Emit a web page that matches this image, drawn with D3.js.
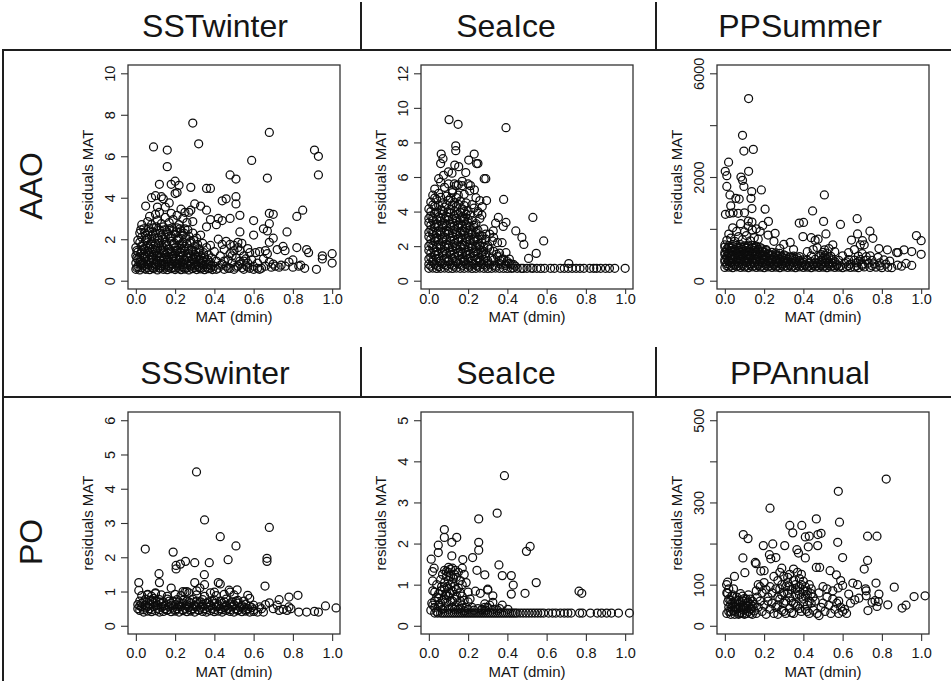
<!DOCTYPE html>
<html><head><meta charset="utf-8">
<script src="https://cdn.jsdelivr.net/npm/d3@7"></script>
<style>
body{margin:0;background:#fff}
svg{display:block}
text{font-family:"Liberation Sans",Arial,Helvetica,sans-serif;fill:#151515}
</style>
</head><body>
<svg id="chart" width="951" height="681"></svg>
<script>
// ---------------- DATA ----------------
const colTitlesTop = ["SSTwinter", "SeaIce", "PPSummer"];
const colTitlesBottom = ["SSSwinter", "SeaIce", "PPAnnual"];
const rowLabels = ["AAO", "PO"];
const xLabel = "MAT (dmin)";
const yLabel = "residuals MAT";
const xTicks = [0, 0.2, 0.4, 0.6, 0.8, 1.0];
const xTickLabels = ["0.0", "0.2", "0.4", "0.6", "0.8", "1.0"];

const yTicksSSTwinter = [0, 2, 4, 6, 8, 10];
const yTickLabelsSSTwinter = ["0", "2", "4", "6", "8", "10"];
const yTicksSeaIceAAO = [0, 2, 4, 6, 8, 10, 12];
const yTickLabelsSeaIceAAO = ["0", "2", "4", "6", "8", "10", "12"];
const yTicksPPSummer = [0, 1000, 2000, 4000, 6000];
const yTickLabelsPPSummer = ["0", "", "2000", "", "6000"];
const yTicksSSSwinter = [0, 1, 2, 3, 4, 5, 6];
const yTickLabelsSSSwinter = ["0", "1", "2", "3", "4", "5", "6"];
const yTicksSeaIcePO = [0, 1, 2, 3, 4, 5];
const yTickLabelsSeaIcePO = ["0", "1", "2", "3", "4", "5"];
const yTicksPPAnnual = [0, 100, 200, 300, 400, 500];
const yTickLabelsPPAnnual = ["0", "100", "", "300", "", "500"];

// [MAT (dmin), residuals MAT]
const aaoSSTwinter = [
[0.00,0.55],[0.01,0.68],[0.02,0.52],[0.03,0.62],[0.04,0.74],[0.05,0.55],[0.06,0.64],[0.07,0.53],[0.08,0.7],[0.09,0.58],[0.10,0.66],[0.11,0.52],[0.12,0.61],[0.13,0.72],[0.14,0.55],[0.15,0.65],[0.16,0.53],[0.17,0.7],[0.18,0.58],[0.19,0.63],[0.20,0.54],[0.21,0.71],[0.22,0.6],[0.23,0.53],[0.24,0.67],[0.25,0.56],[0.26,0.62],[0.27,0.52],[0.28,0.7],[0.29,0.58],[0.30,0.64],[0.31,0.54],[0.32,0.69],[0.33,0.57],[0.34,0.62],[0.35,0.53],[0.36,0.66],[0.37,0.58],[0.38,0.6],[0.39,0.54],
[0.00,0.85],[0.01,1.02],[0.02,0.9],[0.03,0.8],[0.04,1.08],[0.05,0.92],[0.06,0.78],[0.07,1.0],[0.08,0.86],[0.09,1.05],[0.1,0.8],[0.11,0.95],[0.12,1.1],[0.13,0.84],[0.14,0.98],[0.15,0.78],[0.16,1.04],[0.17,0.9],[0.18,0.82],[0.19,1.07],[0.2,0.94],[0.21,0.8],[0.22,1.02],[0.23,0.88],[0.24,0.78],[0.25,1.0],[0.26,0.85],[0.27,0.95],[0.28,0.8],[0.29,1.06],[0.3,0.9],[0.31,0.78],[0.32,1.0],[0.33,0.86],[0.34,0.95],[0.35,0.8],[0.36,0.9],[0.37,0.78],[0.38,0.88],
[0.0,1.2],[0.01,1.38],[0.02,1.15],[0.03,1.45],[0.04,1.28],[0.05,1.18],[0.06,1.42],[0.07,1.25],[0.08,1.12],[0.09,1.36],[0.1,1.48],[0.11,1.22],[0.12,1.3],[0.13,1.15],[0.14,1.44],[0.15,1.26],[0.16,1.35],[0.17,1.14],[0.18,1.4],[0.19,1.2],[0.2,1.3],[0.21,1.46],[0.22,1.18],[0.23,1.35],[0.24,1.22],[0.25,1.42],[0.26,1.15],[0.27,1.3],[0.28,1.2],[0.29,1.4],[0.3,1.25],[0.31,1.12],[0.32,1.35],[0.33,1.2],[0.35,1.15],[0.37,1.25],
[0.0,1.6],[0.02,1.85],[0.03,1.65],[0.04,1.55],[0.05,1.95],[0.06,1.7],[0.07,1.58],[0.08,1.88],[0.09,1.65],[0.1,1.78],[0.11,1.55],[0.12,1.96],[0.13,1.7],[0.14,1.6],[0.15,1.85],[0.16,1.68],[0.17,1.52],[0.18,1.9],[0.19,1.75],[0.2,1.6],[0.21,1.95],[0.22,1.72],[0.23,1.56],[0.24,1.85],[0.25,1.65],[0.26,1.78],[0.27,1.55],[0.28,1.9],[0.3,1.65],[0.32,1.55],[0.34,1.8],[0.36,1.6],[0.38,1.7],
[0.02,2.3],[0.03,2.1],[0.04,2.5],[0.05,2.2],[0.06,2.05],[0.07,2.4],[0.08,2.15],[0.09,2.55],[0.1,2.3],[0.11,2.05],[0.12,2.45],[0.13,2.2],[0.14,2.6],[0.15,2.1],[0.16,2.35],[0.17,2.5],[0.18,2.15],[0.19,2.4],[0.2,2.25],[0.21,2.55],[0.22,2.05],[0.23,2.4],[0.24,2.2],[0.25,2.5],[0.27,2.15],[0.29,2.3],[0.31,2.05],[0.33,2.2],
[0.03,2.7],[0.06,2.85],[0.07,3.1],[0.08,2.7],[0.1,3.2],[0.11,2.9],[0.12,3.3],[0.13,2.75],[0.15,3.05],[0.17,2.8],[0.18,3.25],[0.19,2.95],[0.21,3.15],[0.22,2.7],[0.24,3.0],[0.25,3.3],[0.26,2.8],[0.23,3.45],[0.27,3.3],[0.28,3.4],[0.29,2.85],
[0.005,0.62],[0.025,0.78],[0.045,0.6],[0.065,0.75],[0.085,0.63],[0.105,0.77],[0.125,0.6],[0.145,0.74],[0.165,0.64],[0.185,0.78],[0.205,0.61],[0.225,0.75],[0.245,0.62],[0.265,0.77],[0.285,0.6],[0.305,0.74],[0.325,0.63],[0.345,0.76],[0.365,0.6],[0.385,0.72],
[0.005,1.1],[0.025,0.98],[0.045,1.15],[0.065,1.0],[0.085,1.18],[0.105,1.02],[0.125,0.98],[0.145,1.12],[0.165,1.0],[0.185,1.16],[0.205,1.05],[0.225,1.12],[0.245,0.98],[0.265,1.1],[0.285,1.02],[0.305,1.15],[0.325,0.98],[0.345,1.08],[0.365,1.02],[0.385,1.1],
[0.005,1.45],[0.025,1.32],[0.045,1.5],[0.065,1.35],[0.085,1.55],[0.105,1.3],[0.125,1.48],[0.145,1.35],[0.165,1.52],[0.185,1.3],[0.205,1.45],[0.225,1.38],[0.245,1.55],[0.265,1.32],[0.285,1.48],[0.305,1.4],[0.325,1.5],[0.345,1.35],
[0.01,1.95],[0.035,1.75],[0.055,2.0],[0.075,1.78],[0.095,2.05],[0.115,1.8],[0.135,2.0],[0.155,1.76],[0.175,2.05],[0.195,1.82],[0.215,2.0],[0.235,1.78],[0.255,2.02],[0.275,1.82],[0.295,1.95],[0.315,1.75],
[0.025,2.45],[0.045,2.3],[0.065,2.55],[0.085,2.35],[0.105,2.6],[0.125,2.3],[0.145,2.45],[0.165,2.25],[0.185,2.55],[0.205,2.35],[0.225,2.5],[0.245,2.3],[0.265,2.45],
[0.05,3.6],[0.08,4.0],[0.1,4.1],[0.11,3.55],[0.13,4.05],[0.15,3.55],[0.12,4.65],[0.18,4.65],[0.2,4.8],[0.22,4.6],[0.2,4.2],[0.21,4.25],[0.28,4.5],[0.36,4.45],[0.38,4.45],[0.3,3.7],[0.33,3.6],[0.36,3.4],[0.16,5.5],[0.09,6.45],[0.16,6.3],[0.29,7.6],[0.32,6.6],[0.17,3.75],[0.14,3.95],
[0.4,0.7],[0.41,0.95],[0.42,0.6],[0.43,1.2],[0.44,0.8],[0.45,0.55],[0.45,1.5],[0.46,0.7],[0.47,1.0],[0.48,0.6],[0.48,1.3],[0.49,0.85],[0.5,1.7],[0.5,0.55],[0.51,1.1],[0.52,0.7],[0.52,1.85],[0.53,0.95],[0.53,1.45],[0.54,0.62],[0.54,1.8],[0.55,1.2],[0.56,0.75],[0.57,1.55],[0.58,0.6],[0.59,1.0],[0.6,0.7],[0.61,1.35],[0.62,0.85],[0.63,1.4],[0.64,0.6],[0.65,1.05],[0.66,0.7],[0.67,1.3],[0.68,0.9],[0.69,0.65],[0.7,0.8],[0.71,0.7],[0.72,1.5],[0.73,0.65],[0.74,0.75],[0.75,1.65],[0.76,1.45],[0.76,0.7],[0.78,0.9],[0.8,0.65],[0.8,1.0],[0.82,1.6],[0.83,0.7],[0.84,0.75],[0.86,0.6],[0.87,1.5],[0.88,1.35],[0.92,0.55],[0.95,1.2],[0.95,1.05],[1.0,1.3],[1.0,0.85],[0.42,2.0],[0.44,1.75],[0.4,1.4],[0.46,1.9],[0.55,0.55],[0.57,0.85],[0.63,0.55],[0.66,1.45],
[0.41,0.55],[0.43,0.75],[0.45,0.95],[0.47,0.6],[0.49,1.2],[0.51,0.65],[0.53,0.8],[0.55,0.95],[0.57,0.65],[0.6,0.55],[0.62,0.6],[0.5,1.45],[0.52,1.6],[0.48,1.75],[0.56,1.05],[0.58,1.35],
[0.44,3.85],[0.46,3.95],[0.51,4.05],[0.51,3.7],[0.53,3.15],[0.48,3.0],[0.42,3.0],[0.44,2.9],[0.41,2.7],[0.38,2.95],[0.36,2.6],[0.6,2.9],[0.68,3.25],[0.7,3.2],[0.68,2.75],[0.65,2.5],[0.67,2.4],[0.6,2.2],[0.68,1.85],[0.7,2.05],[0.77,2.35],[0.82,3.1],[0.85,3.4],[0.53,2.35],[0.48,5.1],[0.51,4.9],[0.59,5.8],[0.67,4.95],[0.68,7.15],[0.91,6.3],[0.93,6.0],[0.93,5.1]
];

const aaoSeaIce = [
[0.00,0.72],[0.02,0.73],[0.04,0.71],[0.06,0.72],[0.08,0.73],[0.10,0.72],[0.12,0.71],[0.14,0.73],[0.16,0.72],[0.18,0.72],[0.20,0.73],[0.22,0.71],[0.24,0.72],[0.26,0.73],[0.28,0.72],[0.30,0.71],[0.32,0.72],[0.34,0.73],[0.36,0.72],[0.38,0.72],[0.40,0.71],[0.42,0.72],[0.43,0.73],[0.45,0.72],[0.47,0.72],[0.48,0.71],[0.50,0.72],[0.52,0.73],[0.53,0.72],[0.55,0.72],[0.57,0.71],[0.59,0.72],[0.62,0.72],[0.64,0.72],[0.67,0.72],[0.69,0.72],[0.71,0.72],[0.73,0.72],[0.75,0.72],[0.77,0.72],[0.79,0.72],[0.82,0.72],[0.84,0.72],[0.855,0.72],[0.875,0.72],[0.90,0.72],[0.92,0.72],[0.947,0.72],[1.0,0.72],
[0.00,0.95],[0.02,1.08],[0.04,0.88],[0.06,1.02],[0.08,0.92],[0.10,1.1],[0.12,0.9],[0.14,1.05],[0.16,0.94],[0.18,1.08],[0.20,0.9],[0.22,1.0],[0.24,0.88],[0.26,1.06],[0.28,0.92],[0.30,1.02],[0.33,0.9],[0.36,1.0],[0.39,0.88],[0.42,0.95],[0.44,0.85],
[0.01,1.35],[0.03,1.48],[0.05,1.3],[0.07,1.45],[0.09,1.32],[0.11,1.5],[0.13,1.36],[0.15,1.44],[0.17,1.3],[0.19,1.48],[0.21,1.34],[0.23,1.42],[0.25,1.3],[0.27,1.46],[0.29,1.36],[0.32,1.3],[0.35,1.4],[0.38,1.25],
[0.00,1.75],[0.02,1.88],[0.04,1.7],[0.06,1.85],[0.08,1.72],[0.10,1.9],[0.12,1.76],[0.14,1.86],[0.16,1.7],[0.18,1.84],[0.20,1.74],[0.22,1.88],[0.24,1.72],[0.26,1.8],[0.28,1.7],[0.31,1.82],
[0.01,2.15],[0.03,2.28],[0.05,2.1],[0.07,2.25],[0.09,2.12],[0.11,2.3],[0.13,2.16],[0.15,2.26],[0.17,2.1],[0.19,2.24],[0.21,2.14],[0.23,2.28],[0.25,2.1],[0.27,2.2],[0.30,2.05],
[0.00,2.55],[0.02,2.68],[0.04,2.5],[0.06,2.65],[0.08,2.52],[0.10,2.7],[0.12,2.56],[0.14,2.66],[0.16,2.5],[0.18,2.64],[0.20,2.54],[0.22,2.68],[0.24,2.52],[0.26,2.6],
[0.01,2.95],[0.03,3.08],[0.05,2.9],[0.07,3.05],[0.09,2.92],[0.11,3.1],[0.13,2.96],[0.15,3.06],[0.17,2.9],[0.19,3.04],[0.21,2.94],[0.23,3.08],[0.25,2.92],
[0.00,3.35],[0.02,3.48],[0.04,3.3],[0.06,3.45],[0.08,3.32],[0.10,3.5],[0.12,3.36],[0.14,3.46],[0.16,3.3],[0.18,3.44],[0.20,3.34],[0.22,3.48],
[0.01,3.75],[0.03,3.9],[0.05,3.7],[0.07,3.85],[0.09,3.72],[0.11,3.9],[0.13,3.76],[0.15,3.86],[0.17,3.7],[0.19,3.84],
[0.00,4.15],[0.03,4.3],[0.06,4.1],[0.08,4.25],[0.11,4.12],[0.14,4.3],[0.17,4.16],[0.20,4.05],
[0.01,4.55],[0.04,4.7],[0.07,4.5],[0.10,4.65],[0.13,4.52],[0.16,4.6],[0.19,4.5],
[0.02,4.95],[0.05,5.05],[0.09,4.9],[0.12,5.1],[0.15,4.95],[0.18,5.0],
[0.01,0.85],[0.03,0.95],[0.05,0.82],[0.07,1.0],[0.09,0.86],[0.11,0.96],[0.13,0.84],[0.15,1.0],[0.17,0.86],[0.19,0.95],[0.21,0.85],[0.23,0.96],[0.25,0.84],[0.27,0.95],[0.29,0.85],[0.31,0.92],[0.34,0.84],[0.37,0.92],
[0.00,1.25],[0.02,1.18],[0.04,1.28],[0.06,1.15],[0.08,1.26],[0.10,1.2],[0.12,1.28],[0.14,1.16],[0.16,1.24],[0.18,1.18],[0.20,1.26],[0.22,1.16],[0.24,1.22],[0.26,1.18],[0.28,1.24],[0.30,1.16],[0.33,1.2],
[0.01,1.6],[0.03,1.65],[0.05,1.56],[0.07,1.62],[0.09,1.58],[0.11,1.66],[0.13,1.56],[0.15,1.62],[0.17,1.58],[0.19,1.64],[0.21,1.56],[0.23,1.62],[0.25,1.58],[0.27,1.62],[0.29,1.55],
[0.00,2.0],[0.02,2.05],[0.04,1.96],[0.06,2.02],[0.08,1.98],[0.10,2.06],[0.12,1.96],[0.14,2.02],[0.16,1.98],[0.18,2.04],[0.20,1.96],[0.22,2.02],[0.24,1.98],[0.26,2.02],[0.28,1.95],
[0.01,2.4],[0.03,2.44],[0.05,2.36],[0.07,2.42],[0.09,2.38],[0.11,2.46],[0.13,2.36],[0.15,2.42],[0.17,2.38],[0.19,2.44],[0.21,2.36],[0.23,2.42],[0.25,2.38],[0.27,2.4],
[0.00,2.8],[0.02,2.84],[0.04,2.76],[0.06,2.82],[0.08,2.78],[0.10,2.86],[0.12,2.76],[0.14,2.82],[0.16,2.78],[0.18,2.84],[0.20,2.76],[0.22,2.82],[0.24,2.78],
[0.01,3.2],[0.03,3.24],[0.05,3.16],[0.07,3.22],[0.09,3.18],[0.11,3.26],[0.13,3.16],[0.15,3.22],[0.17,3.18],[0.19,3.24],[0.21,3.16],[0.23,3.2],
[0.00,3.6],[0.02,3.64],[0.04,3.56],[0.06,3.62],[0.08,3.58],[0.10,3.66],[0.12,3.56],[0.14,3.62],[0.16,3.58],[0.18,3.6],[0.20,3.56],
[0.01,4.0],[0.04,3.96],[0.07,4.04],[0.10,3.98],[0.13,4.02],[0.16,3.96],[0.18,4.0],
[0.02,4.38],[0.05,4.34],[0.09,4.4],[0.12,4.36],[0.15,4.42],[0.18,4.35],
[0.03,4.78],[0.06,4.82],[0.11,4.76],[0.14,4.8],
[0.27,2.6],[0.29,2.4],[0.31,2.7],[0.33,2.5],[0.35,2.2],[0.28,3.0],[0.3,1.9],[0.33,1.7],[0.36,1.6],[0.37,1.2],[0.4,1.1],[0.41,1.25],[0.26,3.6],[0.27,3.8],[0.24,3.3],[0.25,3.9],
[0.103,9.32],[0.149,9.05],[0.393,8.85],[0.137,7.8],[0.137,7.52],[0.063,7.33],[0.072,7.06],[0.231,7.33],[0.203,6.98],[0.243,6.78],[0.25,6.78],[0.06,6.78],[0.132,6.69],[0.152,6.6],[0.1,6.3],[0.118,6.22],[0.188,6.26],[0.075,6.1],[0.05,5.9],[0.13,5.6],[0.14,5.5],[0.15,5.55],[0.169,5.5],[0.212,5.5],[0.208,5.2],[0.232,5.26],[0.282,5.9],[0.29,5.9],[0.26,4.64],[0.294,4.64],[0.381,4.7],[0.272,4.29],[0.25,4.0],[0.354,3.66],[0.34,3.33],[0.393,3.37],[0.53,3.66],[0.379,3.14],[0.328,2.88],[0.323,2.3],[0.443,2.88],[0.474,2.5],[0.484,2.1],[0.585,2.3],[0.29,2.7],[0.373,2.2],[0.393,1.62],[0.547,1.58],[0.508,1.29],[0.345,1.52],[0.362,1.17],[0.713,0.99],[0.39,0.97],[0.41,1.0],[0.43,0.95],[0.08,5.4],[0.1,5.6],[0.03,5.3],[0.06,5.7],[0.12,5.25],[0.17,5.75],[0.2,5.6],[0.22,4.4],[0.24,4.8],[0.21,3.8],[0.23,4.2]
];

const aaoPPSummer = [
[0.00,255],[0.02,262],[0.04,250],[0.06,268],[0.08,256],[0.10,262],[0.12,250],[0.14,265],[0.16,256],[0.18,262],[0.20,250],[0.22,266],[0.24,255],[0.26,262],[0.28,250],[0.30,265],[0.32,256],[0.34,262],[0.36,250],[0.38,266],[0.40,255],[0.42,262],[0.44,250],[0.46,265],[0.48,256],[0.50,262],[0.52,250],[0.54,266],[0.56,255],[0.58,262],[0.60,250],[0.62,265],[0.64,256],[0.66,262],[0.68,250],[0.71,266],[0.74,255],[0.77,262],[0.80,250],[0.83,258],[0.85,252],
[0.01,330],[0.03,345],[0.05,320],[0.07,338],[0.09,325],[0.11,350],[0.13,328],[0.15,342],[0.17,322],[0.19,346],[0.21,330],[0.23,340],[0.25,320],[0.27,348],[0.29,326],[0.31,340],[0.33,322],[0.35,345],[0.37,330],[0.39,338],[0.41,320],[0.43,346],[0.45,328],[0.47,335],[0.49,322],[0.51,345],[0.53,330],[0.55,340],[0.57,318],[0.61,335],[0.64,322],[0.67,345],[0.70,320],[0.73,338],[0.76,325],[0.79,342],[0.82,320],
[0.00,405],[0.02,392],[0.04,415],[0.06,398],[0.08,410],[0.10,390],[0.12,418],[0.14,400],[0.16,412],[0.18,395],[0.20,408],[0.22,390],[0.24,415],[0.26,398],[0.28,410],[0.30,392],[0.32,405],[0.34,395],[0.36,412],[0.38,390],[0.40,402],[0.42,395],[0.46,410],[0.49,390],[0.52,415],[0.55,400],[0.58,392],[0.63,405],[0.66,395],[0.69,410],[0.72,398],[0.75,390],
[0.01,470],[0.03,482],[0.05,462],[0.07,478],[0.09,466],[0.11,485],[0.13,470],[0.15,480],[0.17,462],[0.19,476],[0.21,468],[0.23,484],[0.25,462],[0.27,475],[0.29,466],[0.31,480],[0.33,460],[0.35,472],[0.38,465],[0.44,478],[0.48,465],[0.51,482],[0.54,470],[0.68,475],[0.72,462],
[0.00,545],[0.02,532],[0.04,555],[0.06,538],[0.08,550],[0.10,530],[0.12,558],[0.14,540],[0.16,552],[0.18,535],[0.20,548],[0.22,530],[0.24,545],[0.26,535],[0.28,528],[0.50,545],[0.52,530],
[0.01,610],[0.03,622],[0.05,600],[0.07,618],[0.09,605],[0.11,625],[0.13,608],[0.15,620],[0.17,602],[0.19,615],[0.21,600],
[0.00,690],[0.02,675],[0.04,700],[0.06,680],[0.08,695],[0.10,672],[0.12,688],[0.14,678],[0.16,665],
[0.01,290],[0.03,285],[0.05,295],[0.07,288],[0.09,292],[0.11,285],[0.13,296],[0.15,288],[0.17,292],[0.19,285],[0.21,295],[0.23,288],[0.25,292],[0.27,285],[0.29,296],[0.31,288],[0.33,292],[0.35,285],[0.37,295],[0.39,288],[0.41,292],[0.43,285],[0.45,296],[0.47,288],[0.49,292],[0.51,285],[0.53,295],[0.55,288],[0.57,292],[0.59,285],[0.63,290],[0.67,285],[0.70,292],[0.75,288],[0.79,285],
[0.00,365],[0.02,372],[0.04,360],[0.06,368],[0.08,375],[0.10,362],[0.12,370],[0.14,358],[0.16,372],[0.18,365],[0.20,360],[0.22,372],[0.24,365],[0.26,358],[0.28,370],[0.30,362],[0.32,368],[0.34,360],[0.36,372],[0.38,365],[0.40,360],[0.44,368],[0.48,362],[0.50,372],[0.53,360],[0.56,368],[0.62,362],[0.68,370],
[0.01,435],[0.03,440],[0.05,430],[0.07,445],[0.09,432],[0.11,442],[0.13,436],[0.15,428],[0.17,444],[0.19,434],[0.21,440],[0.23,430],[0.25,445],[0.27,435],[0.29,440],[0.31,430],[0.33,438],[0.35,432],[0.37,440],[0.50,435],[0.53,440],
[0.00,505],[0.02,512],[0.04,500],[0.06,515],[0.08,505],[0.10,510],[0.12,498],[0.14,512],[0.16,502],[0.18,510],[0.20,498],[0.22,508],[0.24,500],[0.26,505],[0.30,500],[0.49,505],
[0.01,575],[0.03,580],[0.05,570],[0.07,585],[0.09,572],[0.11,580],[0.13,568],[0.15,582],[0.17,575],[0.19,570],[0.21,580],
[0.00,650],[0.02,645],[0.04,655],[0.06,640],[0.08,650],[0.10,645],[0.12,655],[0.14,640],[0.16,650],[0.18,640],
[0.01,780],[0.03,820],[0.05,760],[0.07,850],[0.09,790],[0.11,870],[0.13,770],[0.15,830],[0.17,800],[0.02,900],[0.06,950],[0.10,940],[0.14,980],[0.04,1020],[0.08,1100],[0.12,1050],
[0.121,5025],[0.09,3610],[0.097,3000],[0.145,3065],[0.019,2571],[0.121,2220],[0.002,2220],[0.01,2052],[0.082,2000],[0.09,1935],[0.097,1817],[0.01,1817],[0.026,1654],[0.137,1719],[0.186,1750],[0.056,1588],[0.073,1575],[0.133,1588],[0.03,1444],[0.138,1392],[0.205,1379],[0.003,1280],[0.025,1300],[0.042,1310],[0.068,1300],[0.1,1310],[0.12,1150],[0.138,1130],[0.222,1144],[0.256,915],[0.193,1065],[0.16,1000],[0.379,1111],[0.401,1124],[0.447,1346],[0.507,1654],[0.503,1144],[0.515,902],[0.398,850],[0.44,830],[0.46,780],[0.475,800],[0.589,1085],[0.674,1196],[0.676,902],[0.739,954],[0.754,817],[0.701,771],[0.69,693],[0.71,693],[0.645,784],[0.785,620],[0.828,595],[0.875,542],[0.882,542],[0.913,595],[0.976,869],[1.0,771],[0.952,562],[1.0,510],[0.923,333],[0.952,294],[0.55,693],[0.508,595],[0.333,738],[0.3,700],[0.28,620],[0.25,760],[0.22,880],[0.18,950],[0.35,600],[0.42,560],[0.45,600],[0.47,640],[0.53,620],[0.56,560],[0.6,480],[0.63,540],[0.66,600],[0.7,520],[0.74,480],[0.78,450],[0.81,400],[0.84,380],[0.88,300],[0.9,280]
];

const poSSSwinter = [
[0.02,0.45],[0.04,0.4],[0.06,0.43],[0.08,0.41],[0.10,0.44],[0.12,0.4],[0.14,0.42],[0.16,0.45],[0.18,0.41],[0.20,0.43],[0.22,0.4],[0.24,0.44],[0.26,0.41],[0.28,0.43],[0.30,0.4],[0.32,0.45],[0.34,0.42],[0.36,0.4],[0.38,0.44],[0.40,0.41],[0.42,0.43],[0.44,0.4],[0.46,0.45],[0.48,0.42],[0.50,0.4],[0.52,0.44],[0.54,0.41],[0.56,0.43],[0.58,0.4],[0.60,0.42],[0.62,0.4],
[0.01,0.5],[0.03,0.55],[0.05,0.52],[0.07,0.5],[0.09,0.56],[0.11,0.51],[0.13,0.54],[0.15,0.5],[0.17,0.55],[0.19,0.52],[0.21,0.5],[0.23,0.56],[0.25,0.51],[0.27,0.53],[0.29,0.5],[0.31,0.55],[0.33,0.52],[0.35,0.5],[0.37,0.54],[0.39,0.51],[0.41,0.55],[0.43,0.5],[0.45,0.53],[0.47,0.51],[0.49,0.55],[0.51,0.5],[0.53,0.54],[0.55,0.52],[0.57,0.5],[0.59,0.53],
[0.01,0.62],[0.03,0.66],[0.05,0.6],[0.07,0.64],[0.09,0.68],[0.11,0.61],[0.13,0.65],[0.15,0.6],[0.18,0.66],[0.20,0.62],[0.22,0.6],[0.24,0.65],[0.26,0.61],[0.28,0.67],[0.30,0.6],[0.32,0.64],[0.34,0.62],[0.36,0.66],[0.38,0.6],[0.40,0.65],[0.42,0.61],[0.44,0.66],[0.46,0.6],[0.48,0.64],[0.50,0.62],[0.52,0.66],[0.54,0.6],[0.56,0.63],
[0.02,0.72],[0.05,0.78],[0.07,0.74],[0.09,0.8],[0.1,0.72],[0.12,0.76],[0.14,0.7],[0.16,0.78],[0.19,0.72],[0.21,0.76],[0.24,0.74],[0.27,0.7],[0.29,0.78],[0.31,0.72],[0.34,0.76],[0.37,0.7],[0.40,0.75],[0.43,0.72],[0.46,0.78],[0.49,0.7],[0.52,0.74],[0.55,0.72],
[0.03,0.88],[0.06,0.92],[0.08,0.86],[0.1,0.94],[0.13,0.9],[0.16,0.86],[0.2,0.92],[0.23,0.88],[0.25,0.98],[0.27,0.96],[0.31,0.9],[0.35,0.86],[0.38,0.96],[0.41,0.88],[0.45,0.92],[0.48,0.98],[0.5,0.9],
[0.02,0.58],[0.04,0.47],[0.06,0.56],[0.08,0.47],[0.10,0.58],[0.12,0.47],[0.14,0.57],[0.16,0.47],[0.18,0.58],[0.20,0.47],[0.22,0.56],[0.24,0.47],[0.26,0.57],[0.28,0.47],[0.30,0.56],[0.32,0.47],[0.34,0.57],[0.36,0.47],[0.38,0.58],[0.40,0.47],[0.42,0.56],[0.44,0.47],[0.46,0.57],[0.48,0.47],[0.50,0.58],[0.52,0.47],[0.54,0.56],[0.56,0.47],[0.58,0.57],[0.60,0.47],
[0.04,0.7],[0.08,0.72],[0.12,0.7],[0.17,0.72],[0.22,0.7],[0.26,0.72],[0.33,0.7],[0.39,0.72],[0.45,0.7],[0.51,0.72],
[0.63,0.55],[0.65,0.4],[0.68,0.67],[0.72,0.6],[0.73,0.45],[0.77,0.45],[0.78,0.55],[0.79,0.5],[0.83,0.4],[0.87,0.4],[0.91,0.42],[0.93,0.4],[0.966,0.58],[1.02,0.52],[0.73,0.76],[0.78,0.84],[0.826,0.89],[0.57,0.89],[0.58,0.8],[0.6,0.6],[0.64,0.5],[0.7,0.5],[0.75,0.48],[0.66,0.62],
[0.309,4.49],[0.35,3.09],[0.68,2.87],[0.43,2.6],[0.51,2.33],[0.048,2.24],[0.19,2.15],[0.47,1.93],[0.668,1.97],[0.668,1.88],[0.30,1.84],[0.374,1.84],[0.253,1.88],[0.227,1.8],[0.205,1.76],[0.205,1.66],[0.118,1.52],[0.349,1.49],[0.015,1.26],[0.015,1.03],[0.12,1.26],[0.30,1.26],[0.35,1.2],[0.42,1.26],[0.43,1.22],[0.658,1.16],[0.18,1.1],[0.326,1.1],[0.475,1.04],[0.516,1.05],[0.31,1.02],[0.24,1.0],[0.26,1.0],[0.4,0.98],[0.1,0.96],[0.06,0.9]
];

const poSeaIce = [
[0.03,0.31],[0.045,0.31],[0.06,0.31],[0.07,0.31],[0.08,0.31],[0.09,0.31],[0.10,0.31],[0.11,0.31],[0.12,0.31],[0.13,0.31],[0.14,0.31],[0.15,0.31],[0.16,0.31],[0.17,0.31],[0.18,0.31],[0.19,0.31],[0.20,0.31],[0.21,0.31],[0.22,0.31],[0.23,0.31],[0.24,0.31],[0.25,0.31],[0.26,0.31],[0.27,0.31],[0.28,0.31],[0.29,0.31],[0.30,0.31],[0.31,0.31],[0.32,0.31],[0.33,0.31],[0.34,0.31],[0.35,0.31],[0.36,0.31],[0.37,0.31],[0.38,0.31],[0.39,0.31],[0.40,0.31],[0.41,0.31],[0.42,0.31],[0.43,0.31],[0.44,0.31],[0.45,0.31],[0.465,0.31],[0.48,0.31],[0.495,0.31],[0.51,0.31],[0.525,0.31],[0.54,0.31],[0.555,0.31],[0.57,0.31],[0.585,0.31],[0.61,0.31],[0.63,0.31],[0.647,0.31],[0.67,0.31],[0.69,0.31],[0.708,0.31],[0.725,0.31],[0.768,0.31],[0.782,0.31],[0.823,0.31],[0.858,0.31],[0.88,0.31],[0.906,0.31],[0.93,0.31],[0.966,0.31],[1.022,0.31],
[0.01,0.38],[0.02,0.5],[0.015,0.55],[0.03,0.45],[0.04,0.35],[0.02,0.85],[0.03,0.82],[0.05,0.78],[0.06,0.85],[0.05,0.68],[0.07,0.62],[0.08,0.9],[0.09,0.55],[0.1,0.72],[0.08,1.05],[0.09,1.2],[0.1,1.3],[0.11,1.38],[0.1,1.42],[0.12,1.4],[0.09,1.32],[0.07,1.25],[0.06,1.12],[0.04,1.0],[0.11,1.0],[0.12,0.85],[0.13,0.65],[0.14,0.5],[0.12,0.45],[0.14,1.18],[0.15,1.3],[0.16,1.1],[0.15,0.92],[0.16,0.8],[0.17,1.4],[0.18,1.25],[0.19,1.05],[0.18,0.62],[0.2,0.58],[0.21,0.65],[0.19,0.45],[0.13,0.95],[0.11,0.6],[0.07,0.4],[0.05,0.5],[0.1,0.4],[0.15,0.4],[0.17,0.5],[0.22,0.45],[0.25,0.42],[0.27,0.4],[0.29,0.38],[0.3,0.45],[0.31,0.5],[0.33,0.4],[0.35,0.38],[0.36,0.42],[0.065,0.95],[0.085,0.75],[0.095,0.95],[0.125,1.15],[0.105,0.8],[0.135,1.35],
[0.03,0.6],[0.04,0.7],[0.06,0.55],[0.08,0.65],[0.09,0.8],[0.11,0.78],[0.12,0.6],[0.14,0.72],[0.16,0.6],[0.17,0.72],[0.13,1.25],[0.11,1.2],[0.1,1.1],[0.08,1.35],[0.12,1.05],[0.14,0.88],[0.06,0.45],[0.08,0.42],[0.13,0.4],[0.16,0.42],[0.2,0.4],[0.23,0.38],[0.18,0.36],
[0.385,3.65],[0.348,2.74],[0.254,2.6],[0.079,2.34],[0.079,2.15],[0.142,2.15],[0.117,2.03],[0.048,1.96],[0.254,2.03],[0.254,1.84],[0.516,1.93],[0.497,1.81],[0.223,1.66],[0.173,1.61],[0.117,1.7],[0.048,1.78],[0.012,1.62],[0.357,1.48],[0.027,1.4],[0.019,1.32],[0.245,1.35],[0.285,1.24],[0.374,1.22],[0.42,1.22],[0.43,0.99],[0.547,1.05],[0.019,1.09],[0.765,0.84],[0.779,0.79],[0.49,0.79],[0.42,0.77],[0.237,0.84],[0.262,0.79],[0.3,0.89],[0.3,0.87],[0.326,0.73],[0.326,0.57],[0.374,0.5],[0.285,0.53],[0.285,0.45],[0.27,0.38],[0.403,0.4],[0.2,0.82],[0.17,1.0]
];

const poPPAnnual = [
[0.01,30],[0.02,45],[0.03,35],[0.04,55],[0.05,28],[0.06,40],[0.07,62],[0.08,32],[0.09,50],[0.1,28],[0.11,42],[0.12,58],[0.13,30],[0.14,48],[0.15,36],[0.02,65],[0.04,38],[0.06,70],[0.08,45],[0.1,66],[0.12,35],[0.14,28],[0.03,52],[0.05,60],[0.07,42],[0.09,72],[0.11,30],[0.13,65],[0.015,58],[0.035,72],[0.055,46],[0.075,30],[0.095,38],[0.115,55],[0.135,42],[0.01,80],[0.02,90],[0.04,75],[0.08,78],[0.12,75],
[0.02,35],[0.03,28],[0.04,48],[0.05,35],[0.06,55],[0.07,28],[0.08,58],[0.09,30],[0.1,45],[0.11,65],[0.12,48],[0.13,40],[0.14,60],[0.15,52],[0.03,62],[0.05,45],[0.07,52],[0.09,60],[0.11,50],[0.13,52],
[0.16,30],[0.17,45],[0.18,60],[0.19,35],[0.2,50],[0.21,28],[0.22,70],[0.23,40],[0.24,55],[0.25,30],[0.16,85],[0.17,100],[0.18,95],[0.19,80],[0.2,105],[0.21,88],[0.22,60],[0.23,95],[0.24,80],[0.165,70],
[0.26,45],[0.27,28],[0.28,65],[0.29,38],[0.3,55],[0.31,30],[0.32,80],[0.33,42],[0.34,60],[0.35,30],[0.36,75],[0.37,48],[0.38,95],[0.39,35],[0.4,65],[0.41,40],[0.42,85],[0.43,30],[0.44,55],[0.45,38],[0.26,90],[0.27,110],[0.28,130],[0.29,100],[0.3,120],[0.31,95],[0.32,105],[0.33,125],[0.34,88],[0.35,110],[0.36,100],[0.37,130],[0.38,115],[0.39,125],[0.4,108],[0.41,95],[0.42,75],[0.43,100],[0.44,90],[0.27,70],[0.3,80],[0.33,68],[0.36,52],[0.39,70],[0.42,50],[0.29,140],[0.35,138],[0.25,120],
[0.27,50],[0.29,75],[0.31,60],[0.33,95],[0.35,55],[0.37,85],[0.39,100],[0.41,72],[0.43,60],[0.45,70],[0.3,35],[0.34,32],[0.38,42],[0.42,35],[0.28,90],[0.32,118],[0.36,90],[0.4,85],[0.44,78],[0.38,75],
[0.46,60],[0.47,30],[0.48,80],[0.49,45],[0.5,95],[0.51,35],[0.52,70],[0.53,50],[0.54,30],[0.55,65],[0.56,40],[0.57,55],[0.58,30],[0.59,45],[0.6,35],[0.61,40],[0.62,30],[0.48,25],[0.5,55],[0.52,90],[0.55,85],[0.58,60],
[0.822,357],[0.578,327],[0.23,286],[0.466,260],[0.584,252],[0.331,244],[0.392,244],[0.346,226],[0.094,222],[0.118,212],[0.41,216],[0.43,218],[0.474,222],[0.49,225],[0.727,218],[0.775,218],[0.196,195],[0.244,199],[0.305,195],[0.425,192],[0.473,195],[0.575,203],[0.367,185],[0.375,177],[0.227,173],[0.234,163],[0.26,166],[0.41,165],[0.6,166],[0.092,165],[0.155,154],[0.159,151],[0.466,142],[0.483,142],[0.727,159],[0.71,138],[0.536,134],[0.568,124],[0.2,134],[0.183,133],[0.102,129],[0.049,120],[0.59,110],[0.6,98],[0.577,92],[0.652,104],[0.676,100],[0.77,104],[0.863,94],[0.717,90],[0.72,85],[0.631,77],[0.64,55],[0.662,63],[0.683,67],[0.72,73],[0.75,57],[0.765,61],[0.785,77],[0.782,59],[0.775,47],[0.83,51],[0.729,37],[0.903,43],[0.923,50],[0.964,71],[1.02,73],[0.014,106],[0.009,100],[0.014,79],[0.044,90]
];

// ---------------- LAYOUT ----------------
const svg = d3.select("#chart");
const BOX_W = 212;
const colLeft = [128, 421, 717];
const rowTop = [65, 412];
const rowH = [224, 222];
const rowTickLen = [5, 7];
const rowLabelOff = [5, 14];
const rowTitleOff = [28, 38];
const FONT_TICK = 14.5;

const panels = [
  {data: aaoSSTwinter, c:0, r:0, yt: yTicksSSTwinter, yl: yTickLabelsSSTwinter},
  {data: aaoSeaIce,   c:1, r:0, yt: yTicksSeaIceAAO, yl: yTickLabelsSeaIceAAO},
  {data: aaoPPSummer, c:2, r:0, yt: yTicksPPSummer, yl: yTickLabelsPPSummer},
  {data: poSSSwinter, c:0, r:1, yt: yTicksSSSwinter, yl: yTickLabelsSSSwinter},
  {data: poSeaIce,    c:1, r:1, yt: yTicksSeaIcePO, yl: yTickLabelsSeaIcePO},
  {data: poPPAnnual,  c:2, r:1, yt: yTicksPPAnnual, yl: yTickLabelsPPAnnual}
];

// frame lines
const frame = svg.append("g").attr("stroke", "#1e1e1e").attr("stroke-width", 2);
frame.append("line").attr("x1", 3).attr("x2", 951).attr("y1", 50).attr("y2", 50);
frame.append("line").attr("x1", 3).attr("x2", 951).attr("y1", 397).attr("y2", 397);
frame.append("line").attr("x1", 3).attr("x2", 3).attr("y1", 49).attr("y2", 681);
[361, 656].forEach(x => {
  frame.append("line").attr("x1", x).attr("x2", x).attr("y1", 2).attr("y2", 50);
  frame.append("line").attr("x1", x).attr("x2", x).attr("y1", 347).attr("y2", 397);
});

// header titles
const titleX = [215, 506, 800];
colTitlesTop.forEach((t, i) => svg.append("text").attr("x", titleX[i]).attr("y", 25)
  .attr("dy", "0.36em").attr("text-anchor", "middle").style("font-size", "32px").text(t));
colTitlesBottom.forEach((t, i) => svg.append("text").attr("x", titleX[i]).attr("y", 372)
  .attr("dy", "0.36em").attr("text-anchor", "middle").style("font-size", "32px").text(t));
const rowLabelY = [186, 542];
rowLabels.forEach((t, i) => svg.append("text")
  .attr("transform", `translate(30,${rowLabelY[i]}) rotate(-90)`)
  .attr("dy", "0.36em").attr("text-anchor", "middle").style("font-size", "32px").text(t));

panels.forEach(p => {
  const left = colLeft[p.c], top = rowTop[p.r], h = rowH[p.r];
  const g = svg.append("g");
  const x = d3.scaleLinear().domain([-0.04, 1.04]).range([left, left + BOX_W]);
  const pad = h * 0.04 / 1.08;
  const yBottom = top + h - pad, yTopPx = top + pad;
  const n = p.yt.length - 1;
  const y = d3.scaleLinear().domain(p.yt)
    .range(p.yt.map((d, i) => yBottom + (yTopPx - yBottom) * i / n));

  // points
  g.append("g").selectAll("circle").data(p.data).join("circle")
    .attr("cx", d => x(d[0])).attr("cy", d => y(d[1])).attr("r", 4)
    .attr("fill", "none").attr("stroke", "#0d0d0d").attr("stroke-width", 1.25);

  // box
  g.append("rect").attr("x", left).attr("y", top).attr("width", BOX_W).attr("height", h)
    .attr("fill", "none").attr("stroke", "#333").attr("stroke-width", 1.3);

  // x axis
  const xa = g.append("g").attr("transform", `translate(0,${top + h})`)
    .call(d3.axisBottom(x).tickValues(xTicks).tickFormat((d, i) => xTickLabels[i])
      .tickSize(rowTickLen[p.r]).tickSizeOuter(0));
  xa.select(".domain").remove();
  xa.selectAll("line").attr("stroke", "#333").attr("stroke-width", 1.1);
  xa.selectAll("text").attr("y", rowLabelOff[p.r]).attr("dy", "0.71em").style("font-size", FONT_TICK + "px")
    .style("font-family", '"Liberation Sans",Arial,sans-serif').attr("fill", "#151515");

  // y axis
  const ya = g.append("g").attr("transform", `translate(${left},0)`)
    .call(d3.axisLeft(y).tickValues(p.yt).tickFormat((d, i) => p.yl[i]).tickSize(7).tickSizeOuter(0));
  ya.select(".domain").remove();
  ya.selectAll("line").attr("stroke", "#333").attr("stroke-width", 1.1);
  ya.selectAll("text").attr("transform", "rotate(-90)").attr("x", 0).attr("y", -18)
    .attr("dy", "0.35em").attr("text-anchor", "middle").style("font-size", FONT_TICK + "px")
    .style("font-family", '"Liberation Sans",Arial,sans-serif').attr("fill", "#151515");

  // axis titles
  g.append("text").attr("x", x(0.5)).attr("y", top + h + rowTitleOff[p.r]).attr("dy", "0.35em")
    .attr("text-anchor", "middle").style("font-size", "15px").text(xLabel);
  g.append("text").attr("transform", `translate(${left - 40},${top + h / 2}) rotate(-90)`)
    .attr("dy", "0.35em").attr("text-anchor", "middle").style("font-size", "15px").text(yLabel);
});
</script>
</body></html>
